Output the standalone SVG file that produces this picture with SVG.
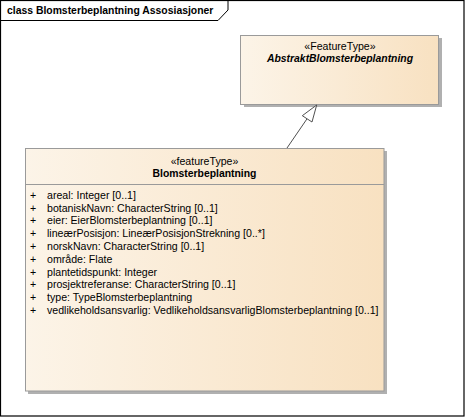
<svg xmlns="http://www.w3.org/2000/svg" width="465" height="417" viewBox="0 0 465 417">
<style>
text{font-family:"Liberation Sans",Arial,sans-serif;fill:#000}
.t{font-size:10.4px;font-weight:bold}
.st{font-size:10.6px;text-anchor:middle}
.nm{font-size:10.4px;font-weight:bold;text-anchor:middle}
.at{font-size:10.6px}
.box{fill:url(#g);stroke:#9a9a9a;stroke-width:1}
.sh{fill:#b0b0b0}
.conn{fill:none;stroke:#505050;stroke-width:1}
</style>
<defs>
<linearGradient id="g" x1="0" y1="0" x2="1" y2="0">
<stop offset="0" stop-color="#fcf4e8"/>
<stop offset="1" stop-color="#f8e1c1"/>
</linearGradient>
</defs>
<g id="frame">
<rect x="0.5" y="0.5" width="463.5" height="415.5" fill="#fff" stroke="#000" stroke-width="1.2"/>
<path d="M0.5 20.5 H218 L228 10 V0.5" fill="none" stroke="#000" stroke-width="1"/>
<text class="t" x="7" y="14">class Blomsterbeplantning Assosiasjoner</text>
</g>
<g id="AbstraktBlomsterbeplantning">
<rect class="sh" x="244" y="38" width="198" height="69"/>
<rect class="box" x="240.5" y="35.5" width="198" height="69"/>
<text class="st" x="340" y="50">«FeatureType»</text>
<text class="nm" x="340" y="62" font-style="italic">AbstraktBlomsterbeplantning</text>
</g>
<g id="Blomsterbeplantning">
<rect class="sh" x="28" y="151" width="359" height="243"/>
<rect class="box" x="25.5" y="148.5" width="358.5" height="242.5"/>
<text class="st" x="204.5" y="165">«featureType»</text>
<text class="nm" x="204.5" y="177">Blomsterbeplantning</text>
<line x1="25.5" y1="184.5" x2="384" y2="184.5" stroke="#9a9a9a" stroke-width="1"/>
<g class="at">
<text x="30" y="198.7">+</text><text x="47" y="198.7">areal: Integer [0..1]</text>
<text x="30" y="211.5">+</text><text x="47" y="211.5">botaniskNavn: CharacterString [0..1]</text>
<text x="30" y="224.3">+</text><text x="47" y="224.3">eier: EierBlomsterbeplantning [0..1]</text>
<text x="30" y="237.1">+</text><text x="47" y="237.1">lineærPosisjon: LineærPosisjonStrekning [0..*]</text>
<text x="30" y="249.9">+</text><text x="47" y="249.9">norskNavn: CharacterString [0..1]</text>
<text x="30" y="262.7">+</text><text x="47" y="262.7">område: Flate</text>
<text x="30" y="275.5">+</text><text x="47" y="275.5">plantetidspunkt: Integer</text>
<text x="30" y="288.3">+</text><text x="47" y="288.3">prosjektreferanse: CharacterString [0..1]</text>
<text x="30" y="301.1">+</text><text x="47" y="301.1">type: TypeBlomsterbeplantning</text>
<text x="30" y="313.9">+</text><text x="47" y="313.9">vedlikeholdsansvarlig: VedlikeholdsansvarligBlomsterbeplantning [0..1]</text>
</g>
</g>
<g id="connectors">
<line class="conn" x1="287" y1="148" x2="307.3" y2="118.4"/>
<polygon points="316.7,105 302.3,115.7 312,122" fill="#fff" stroke="#505050" stroke-width="1"/>
</g>
</svg>
